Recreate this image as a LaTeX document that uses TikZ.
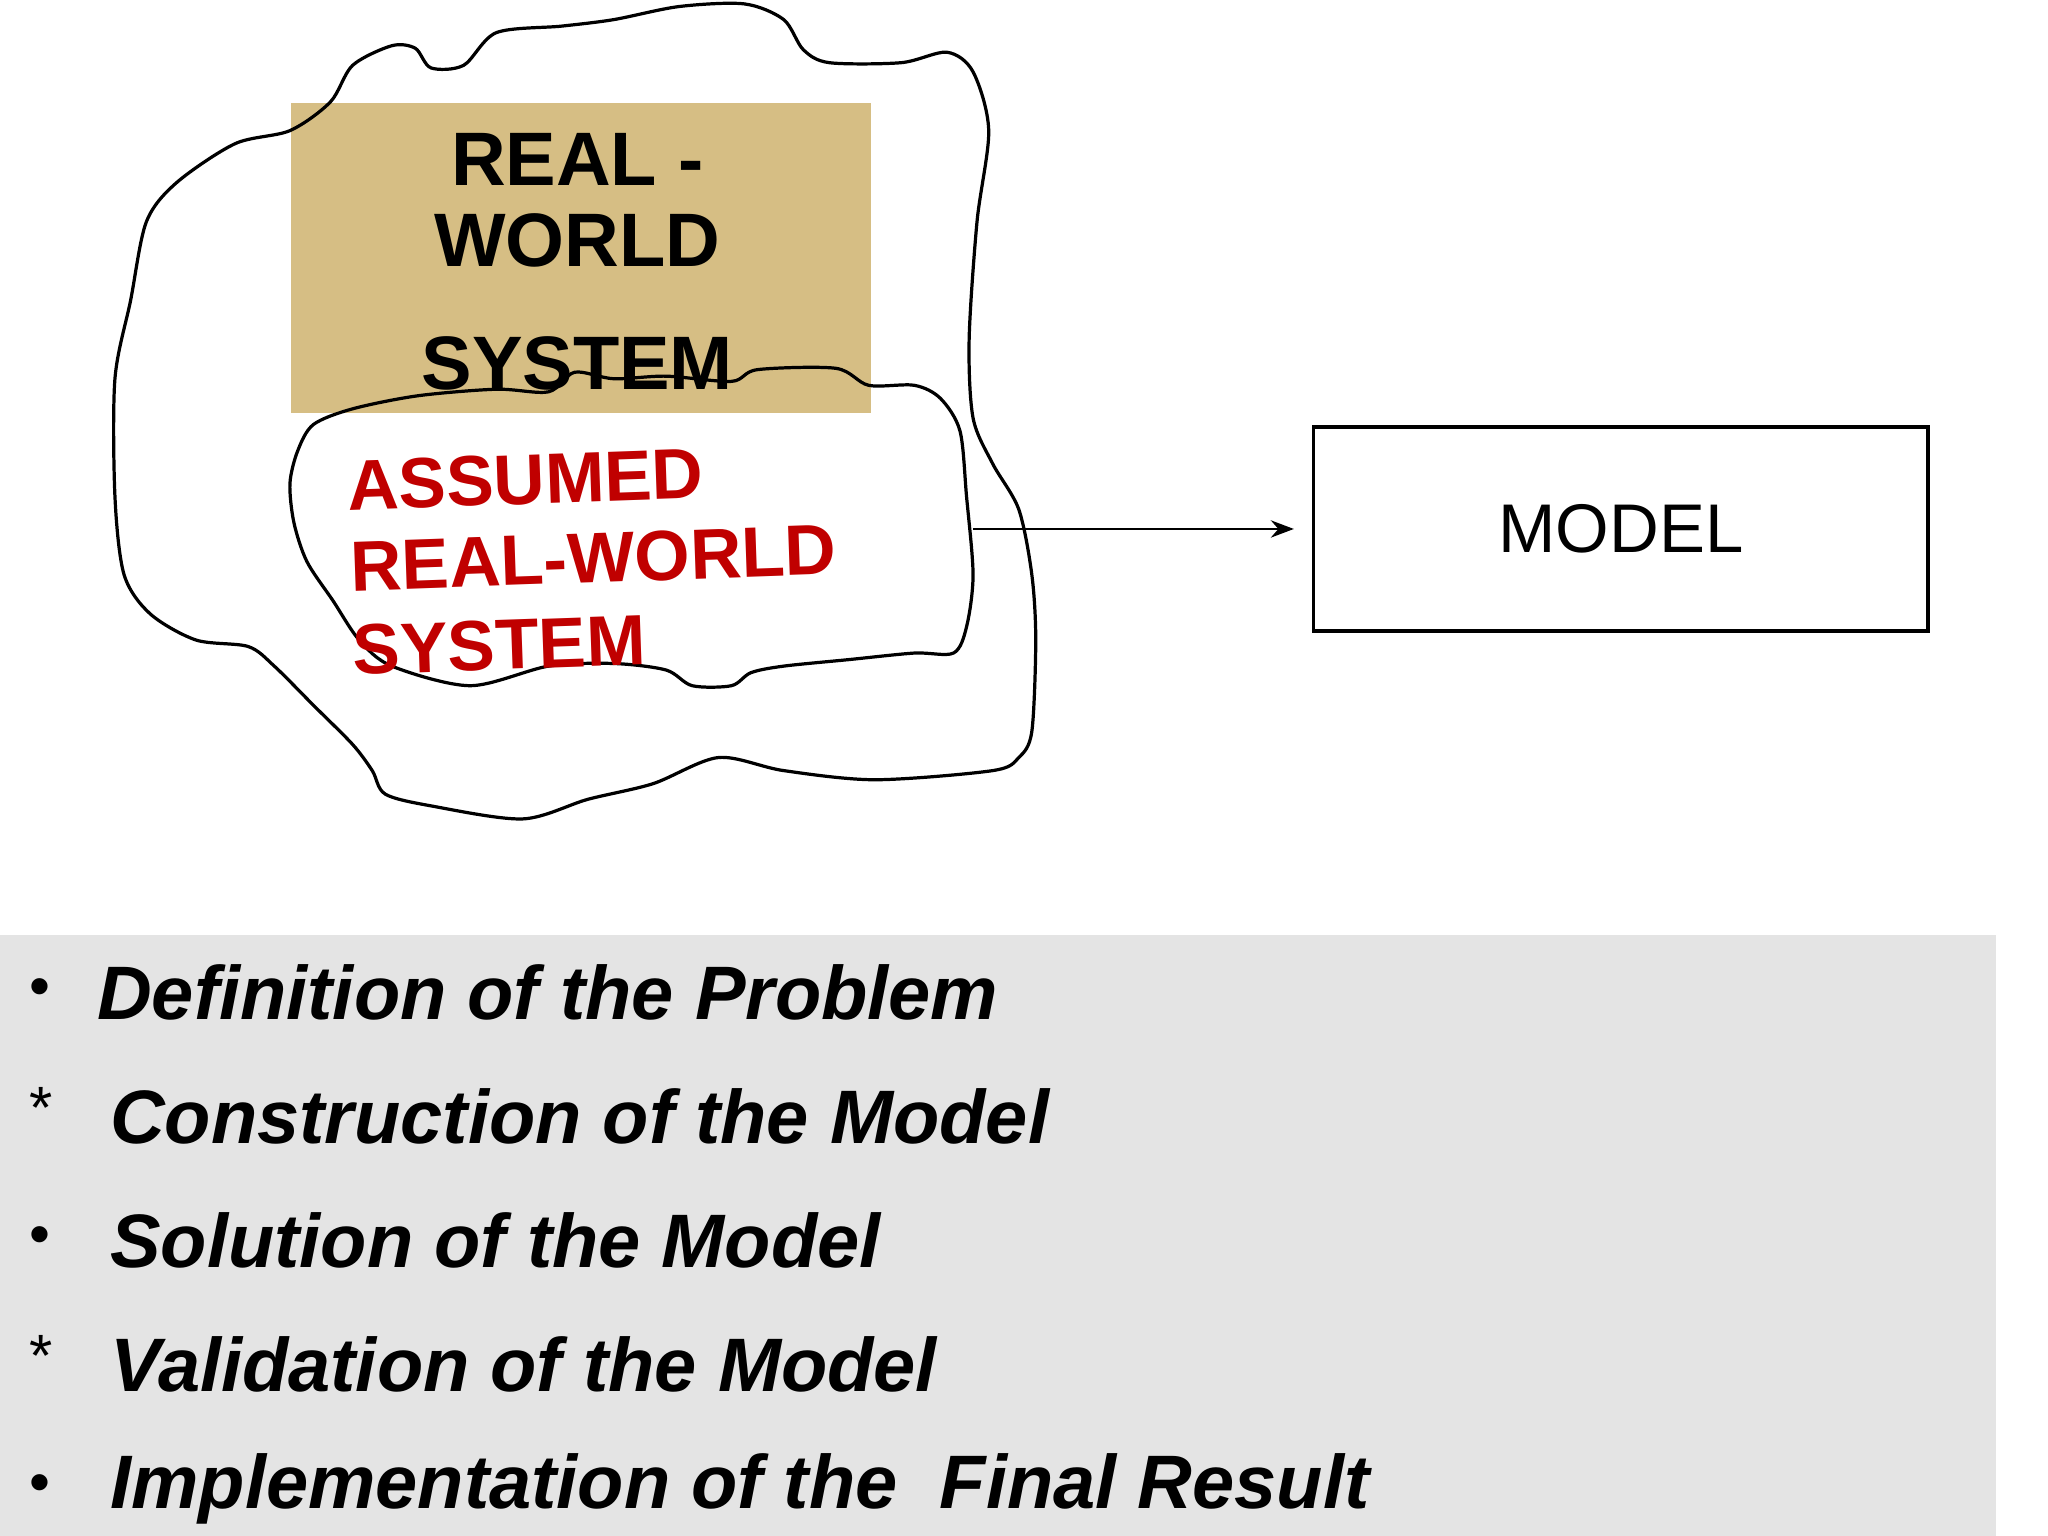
\documentclass[tikz,border=0pt]{standalone}
\usepackage{fontspec}
\setmainfont{Liberation Sans}
\usetikzlibrary{arrows.meta}
\definecolor{tan}{HTML}{D6BE84}
\definecolor{redt}{HTML}{C00000}
\definecolor{bggray}{HTML}{E4E4E4}
\tikzset{blob/.style={draw=black,line width=0.7pt},
 bul/.style={anchor=west,font=\fontsize{16.5}{20}\selectfont\bfseries\itshape},
 bmark/.style={anchor=west,font=\fontsize{13}{16}\selectfont}}
\begin{document}
\begin{tikzpicture}[x=0.01cm,y=-0.01cm]
\useasboundingbox (0,0) rectangle (1568,1176);
\fill[bggray] (0,716) rectangle (1528,1176);
\node[fill=tan,minimum width=4.44cm,minimum height=2.37cm,inner sep=0,anchor=north west] (rw) at (222,78) {};
\node[font=\fontsize{16.5}{20}\selectfont\bfseries] (t1) at (442,122) {REAL -};
\node[font=\fontsize{16.5}{20}\selectfont\bfseries] (t2) at (442,184) {WORLD};
\node[font=\fontsize{16.5}{20}\selectfont\bfseries] (t3) at (442,278) {SYSTEM};
\draw[blob] plot[smooth cycle,tension=0.5] coordinates{(253,78)(270,50)(300,35)(318,37)(330,52)(355,50)(380,25)(430,20)(470,15)(520,5)(570,3)(600,15)(615,38)(635,48)(690,48)(725,40)(745,55)(757,100)(748,170)(742,260)(745,320)(760,355)(780,390)(790,440)(793,490)(790,560)(780,580)(760,590)(670,597)(600,590)(550,580)(500,600)(450,612)(400,627)(330,617)(295,608)(285,590)(270,570)(240,540)(210,510)(190,495)(150,490)(115,470)(95,440)(88,380)(88,290)(100,230)(112,170)(135,140)(180,110)(222,100)};
\draw[blob] plot[smooth cycle,tension=0.5] coordinates{(228,345)(240,325)(270,313)(320,303)(380,298)(420,300)(440,285)(470,290)(510,288)(560,292)(580,283)(640,282)(665,295)(700,295)(720,305)(735,330)(740,380)(745,440)(740,480)(730,500)(700,500)(650,505)(600,510)(575,515)(560,525)(530,525)(510,513)(470,508)(420,510)(360,525)(300,510)(275,490)(255,460)(235,430)(225,400)(222,370)};
\begin{scope}[redt,font=\fontsize{15.5}{18}\selectfont\bfseries]
\node[anchor=west,rotate=2,inner sep=1pt] (a1) at (262,372) {ASSUMED};
\node[anchor=west,rotate=2,inner sep=1pt] (a2) at (264,434) {REAL-WORLD};
\node[anchor=west,rotate=2,inner sep=1pt] (a3) at (266,498) {SYSTEM};
\end{scope}
\node[draw,line width=0.7pt,minimum width=4.7cm,minimum height=1.56cm,inner sep=0,font=\fontsize{15}{18}\selectfont] (m) at (1241,405) {MODEL};
\coordinate (s) at (745,405);
\draw[-{Stealth[length=5pt]},line width=0.6pt] (s) -- ([xshift=-0.14cm]m.west);
\node[bmark] (b1) at (10,760) {•};
\node[bul] (l1) at (62,760) {Definition of the Problem};
\node[bmark] (b2) at (10,848) {*};
\node[bul] (l2) at (72,855) {Construction of the Model};
\node[bmark] (b3) at (10,950) {•};
\node[bul] (l3) at (72,950) {Solution of the Model};
\node[bmark] (b4) at (10,1038) {*};
\node[bul] (l4) at (72,1045) {Validation of the Model};
\node[bmark] (b5) at (10,1140) {•};
\node[bul] (l5) at (72,1140) {Implementation of the \ Final Result};
\end{tikzpicture}
\end{document}
